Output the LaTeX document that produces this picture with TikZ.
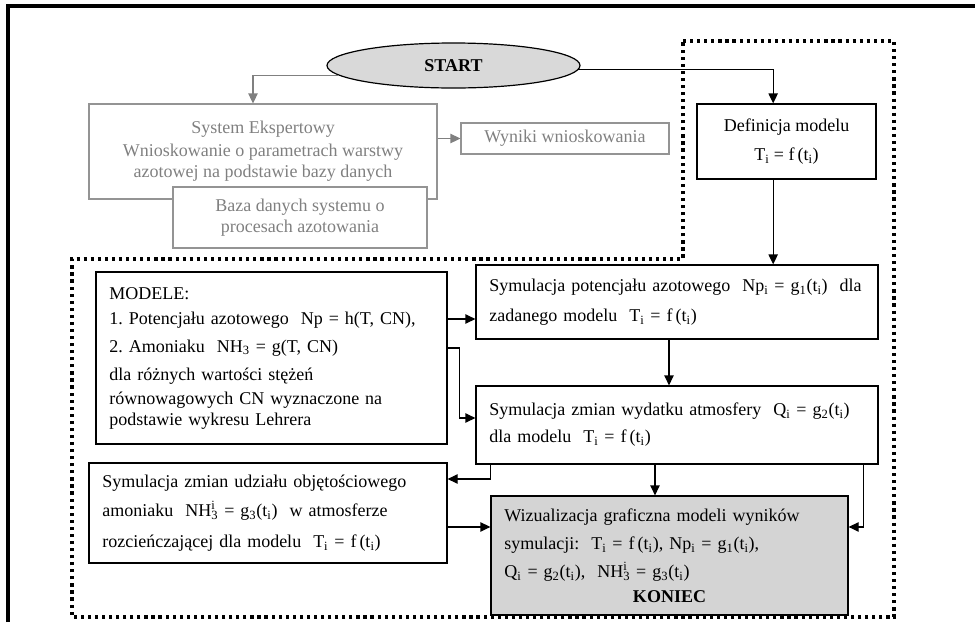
\documentclass[tikz,border=0pt]{standalone}
\usepackage{fontspec}
\setmainfont{Liberation Serif}
\usetikzlibrary{arrows.meta,shapes.geometric,calc}
\newcommand\sbi[1]{\textsubscript{#1}}
\newcommand\supsb[2]{\rlap{\textsuperscript{#1}}\textsubscript{#2}}
\frenchspacing
\begin{document}
\begin{tikzpicture}[x=0.75pt,y=-0.75pt,
  txt/.style={font=\fontsize{13.5pt}{15.75pt}\selectfont},
  cbox/.style={txt,draw,line width=0.9pt,align=center,inner sep=0pt},
  lbox/.style={txt,draw,line width=0.9pt,align=left,inner xsep=10pt,inner ysep=0pt},
  grey/.style={draw=black!42,text=black!50,line width=0.8pt},
  arr/.style={line width=0.9pt,-{Triangle[length=7.5pt,width=7pt]}},
  garr/.style={arr,draw=black!50,-{Triangle[length=7.5pt,width=7pt,fill=black!50]}},
  frame/.style={line width=2.3pt},
  dots/.style={line width=2.3pt,dash pattern=on 2.4pt off 2.9pt}
]
\useasboundingbox (0,0) rectangle (975,622);
% outer frame (top and left)
\draw[frame] (8,622) -- (8,6) -- (975,6);
% dotted region
\draw[dots] (683,41) -- (894,41) -- (894,617) -- (72,617) -- (72,259) -- (683,259) -- cycle;

% START
\node[ellipse,draw,line width=0.9pt,fill=black!15,minimum width=189.75pt,minimum height=33.75pt,inner sep=0pt,txt] (start) at (453.5,65.5) {\bfseries START};

% grey expert system part
\node[cbox,grey,minimum width=261pt,minimum height=71.25pt] (sys) at (263,151.5)
  {System Ekspertowy\\[1.5pt]Wnioskowanie o parametrach warstwy\\azotowej na podstawie bazy danych};
\node[cbox,grey,fill=white,minimum width=190.5pt,minimum height=45.75pt] (baza) at (300,217.5)
  {Baza danych systemu o\\procesach azotowania};
\node[cbox,grey,minimum width=156pt,minimum height=23.25pt] (wyn) at (565,138.5)
  {Wyniki wnioskowania};

% Definicja modelu
\node[cbox,minimum width=134.25pt,minimum height=56.25pt] (def) at (786.5,141.5)
  {Definicja modelu\\[6pt]T\sbi{i} = f\,(t\sbi{i})};

% simulation boxes
\node[lbox,text width=281.5pt,minimum height=55.5pt] (pot) at (677,302)
  {Symulacja potencjału azotowego \ Np\sbi{i} = g\sbi{1}(t\sbi{i}) \ dla\\[6.75pt]zadanego modelu \ T\sbi{i} = f\,(t\sbi{i})};
\node[lbox,text width=281.5pt,minimum height=58.5pt] (wyd) at (677,425)
  {Symulacja zmian wydatku atmosfery \ Q\sbi{i} = g\sbi{2}(t\sbi{i})\\[4.5pt]dla modelu \ T\sbi{i} = f\,(t\sbi{i})};
\node[lbox,text width=243.25pt,minimum height=129pt] (mod) at (271.5,358)
  {MODELE:\\[3pt]1. Potencjału azotowego \ Np = h(T, CN),\\[5.25pt]2. Amoniaku \ NH\sbi{3} = g(T, CN)\\[5.25pt]dla różnych wartości stężeń\\[2.25pt]równowagowych CN wyznaczone na\\podstawie wykresu Lehrera};
\node[lbox,text width=248.5pt,minimum height=75pt] (udz) at (268,513)
  {Symulacja zmian udziału objętościowego\\[6pt]amoniaku \ NH\supsb{i}{3} = g\sbi{3}(t\sbi{i}) \ w atmosferze\\[7.5pt]rozcieńczającej dla modelu \ T\sbi{i} = f\,(t\sbi{i})};
\node[lbox,fill=black!17,text width=247.75pt,minimum height=89.25pt] (wiz) at (669.5,555.5)
  {Wizualizacja graficzna modeli wyników\\[5.25pt]symulacji: \ T\sbi{i} = f\,(t\sbi{i}), Np\sbi{i} = g\sbi{1}(t\sbi{i}),\\[5.25pt]Q\sbi{i} = g\sbi{2}(t\sbi{i}), \ NH\supsb{i}{3} = g\sbi{3}(t\sbi{i})\\[3pt]\makebox[\linewidth]{\bfseries KONIEC}};

% connector end points
\coordinate (potin) at ([yshift=-12.75pt]pot.west);
\coordinate (wizinl) at ([yshift=21.4pt]wiz.west);
\coordinate (wizinr) at ([yshift=21.4pt]wiz.east);

% connectors
\draw[garr] (start.185) -| ([xshift=-7.5pt]sys.north);
\draw[garr] (sys.east |- wyn.west) -- (wyn.west);
\draw[arr] (start.358) -| ([xshift=-10pt]def.north);
\draw[arr] ([xshift=-10pt]def.south) -- ([xshift=-10pt]def.south |- pot.north);
\draw[arr] ([xshift=-6pt]pot.south) -- ([xshift=-6pt]pot.south |- wyd.north);
\draw[arr] (mod.east |- potin) -- (potin);
\draw[arr] ([yshift=7.5pt]mod.east) -- ++(9pt,0) |- ([yshift=5.25pt]wyd.west);
\draw[arr] ([xshift=11.25pt]wyd.south west) |- ([yshift=25.5pt]udz.east);
\draw[arr] ([xshift=-16.5pt]wyd.south) -- ([xshift=-16.5pt]wyd.south |- wiz.north);
\draw[arr] (udz.east |- wizinl) -- (wizinl);
\draw[arr] ([xshift=-11.25pt]wyd.south east) |- (wizinr);
\end{tikzpicture}
\end{document}
